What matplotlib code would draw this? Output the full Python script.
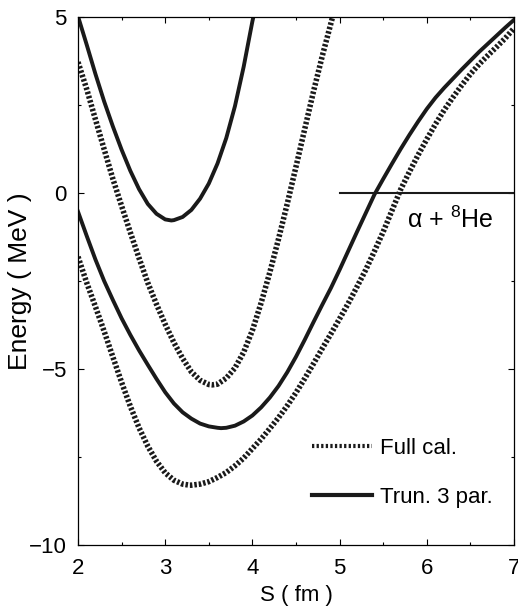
import matplotlib
matplotlib.use("Agg")
import matplotlib.pyplot as plt
from matplotlib.lines import Line2D
from matplotlib.ticker import MultipleLocator

plt.rcParams['font.family'] = ['Liberation Sans', 'DejaVu Sans']
plt.rcParams['mathtext.default'] = 'regular'

# upper state, truncated 3 par. (solid)
s_a = [2.0, 2.1, 2.2, 2.3, 2.4, 2.5, 2.6, 2.7, 2.8, 2.9, 3.0, 3.07,
       3.1, 3.2, 3.3, 3.4, 3.5, 3.6, 3.7, 3.8, 3.9, 4.0, 4.02]
e_a = [5.02, 4.21, 3.38, 2.60, 1.89, 1.23, 0.63, 0.11, -0.31, -0.59, -0.75, -0.78,
       -0.77, -0.68, -0.48, -0.16, 0.27, 0.84, 1.56, 2.47, 3.59, 4.88, 5.10]

# upper state, full calculation (dotted)
s_b = [2.0, 2.1, 2.2, 2.3, 2.4, 2.5, 2.6, 2.7, 2.8, 2.9, 3.0, 3.1, 3.2, 3.3, 3.4, 3.5, 3.54,
       3.6, 3.7, 3.8, 3.9, 4.0, 4.1, 4.2, 4.3, 4.4, 4.5, 4.6, 4.7, 4.8, 4.9, 4.93]
e_b = [3.72, 2.95, 2.09, 1.24, 0.40, -0.37, -1.12, -1.85, -2.55, -3.16, -3.73, -4.25, -4.70,
       -5.08, -5.32, -5.44, -5.45,
       -5.43, -5.26, -4.97, -4.52, -3.90, -3.12, -2.25, -1.30, -0.30, 0.75, 1.82, 2.88,
       3.88, 4.82, 5.10]

# ground state, truncated 3 par. (solid)
s_c = [2.0, 2.1, 2.2, 2.3, 2.4, 2.5, 2.6, 2.7, 2.8, 2.9, 3.0, 3.1, 3.2, 3.3, 3.4, 3.5, 3.6,
       3.64, 3.7, 3.8, 3.9, 4.0, 4.1, 4.2, 4.3, 4.4, 4.5, 4.6, 4.7, 4.8, 4.9, 5.0, 5.1,
       5.2, 5.3, 5.4, 5.5, 5.6, 5.7, 5.8, 5.9, 6.0, 6.1, 6.2, 6.3, 6.4, 6.5, 6.6, 6.7,
       6.8, 6.9, 7.0]
e_c = [-0.53, -1.22, -1.89, -2.50, -3.04, -3.56, -4.03, -4.47, -4.88, -5.28, -5.66, -5.98,
       -6.23, -6.41, -6.55, -6.63, -6.67, -6.68, -6.67, -6.61, -6.49, -6.32, -6.09, -5.81,
       -5.48, -5.09, -4.65, -4.17, -3.67, -3.18, -2.70, -2.18, -1.64, -1.10, -0.57, -0.04,
       0.40, 0.83, 1.25, 1.65, 2.03, 2.39, 2.71, 2.99, 3.25, 3.51, 3.76, 4.01, 4.24, 4.47,
       4.70, 4.92]

# ground state, full calculation (dotted)
s_d = [2.0, 2.1, 2.2, 2.3, 2.4, 2.5, 2.6, 2.7, 2.8, 2.9, 3.0, 3.1, 3.2, 3.28, 3.3, 3.4,
       3.5, 3.6, 3.7, 3.8, 3.9, 4.0, 4.1, 4.2, 4.3, 4.4, 4.5, 4.6, 4.7, 4.8, 4.9, 5.0,
       5.1, 5.2, 5.3, 5.4, 5.5, 5.6, 5.7, 5.8, 5.9, 6.0, 6.1, 6.2, 6.3, 6.4, 6.5, 6.6,
       6.7, 6.8, 6.9, 7.0]
e_d = [-1.81, -2.55, -3.23, -3.93, -4.66, -5.38, -6.06, -6.67, -7.19, -7.62, -7.95, -8.16,
       -8.27, -8.30, -8.30, -8.27, -8.20, -8.08, -7.94, -7.75, -7.53, -7.26, -6.99, -6.69,
       -6.38, -6.04, -5.67, -5.27, -4.85, -4.42, -4.00, -3.57, -3.13, -2.66, -2.18, -1.65,
       -1.10, -0.50, 0.10, 0.60, 1.08, 1.53, 1.96, 2.36, 2.72, 3.06, 3.38, 3.66, 3.91,
       4.15, 4.40, 4.68]

# alpha + 8He threshold
s_thr = [5.0, 7.0]
e_thr = [0.0, 0.0]

fig = plt.figure(figsize=(5.18, 6.08), dpi=100)
ax = fig.add_axes([0.1506, 0.1036, 0.8417, 0.8684])

ink = '#1a1a1a'
dot = (0, (0.45, 0.35))
ax.plot(s_b, e_b, color=ink, lw=4.0, linestyle=dot, dash_capstyle='butt')
ax.plot(s_a, e_a, color=ink, lw=2.8)
ax.plot(s_c, e_c, color=ink, lw=2.8)
ax.plot(s_d, e_d, color=ink, lw=4.0, linestyle=dot, dash_capstyle='butt')
ax.plot(s_thr, e_thr, color=ink, lw=1.5)

ax.text(5.77, -0.99, r'α + $^{8}$He', fontsize=18, va='baseline', ha='left')

ax.set_xlim(2, 7)
ax.set_ylim(-10, 5)
ax.xaxis.set_major_locator(MultipleLocator(1))
ax.xaxis.set_minor_locator(MultipleLocator(0.5))
ax.yaxis.set_major_locator(MultipleLocator(5))
ax.yaxis.set_minor_locator(MultipleLocator(2.5))
ax.tick_params(which='both', direction='in', top=True, right=True, labelsize=16,
               width=0.8)
ax.tick_params(which='major', length=4)
ax.tick_params(which='minor', length=2)
ax.tick_params(axis='x', pad=9)
ax.tick_params(axis='y', pad=8)
for sp in ax.spines.values():
    sp.set_linewidth(0.9)

ax.set_xlabel('S ( fm )', fontsize=16, labelpad=5)
ax.set_ylabel('Energy ( MeV )', fontsize=19)
ax.yaxis.set_label_coords(-0.105, 0.5)

handles = [Line2D([], [], color=ink, lw=3.0, linestyle=(0, (0.55, 0.55)),
                  dash_capstyle='butt'),
           Line2D([], [], color=ink, lw=3.0)]
ax.legend(handles, ['Full cal.', 'Trun. 3 par.'], loc='center left',
          bbox_to_anchor=(0.537, 0.137), frameon=False, fontsize=16,
          borderaxespad=0, borderpad=0, handlelength=2.7, handletextpad=0.36,
          labelspacing=1.25)

fig.savefig('out.png', dpi=100)
